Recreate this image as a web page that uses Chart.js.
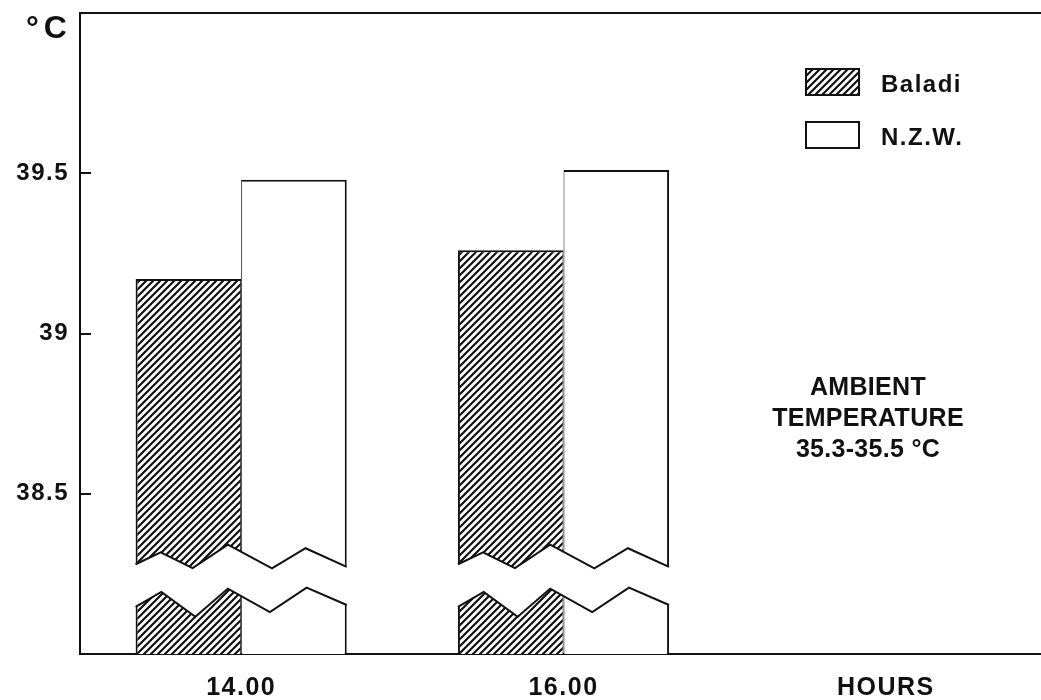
<!DOCTYPE html>
<html><head><meta charset="utf-8">
<script src="https://cdn.jsdelivr.net/npm/chart.js@4.4.1/dist/chart.umd.min.js"></script>
<style>
html,body{margin:0;padding:0;overflow:hidden;background:#fff}
#wrap{width:1047px;height:700px;position:relative}
</style>
</head><body><div id="wrap"><canvas id="c"></canvas></div>
<script>
// ---- data ----
const categories = ['14.00', '16.00', 'HOURS'];
const baladi = [39.17, 39.26, null];
const nzw = [39.48, 39.51, null];
const seriesNames = ['Baladi', 'N.Z.W.'];
const yTicks = [38.5, 39, 39.5];
const yMin = 38, yMax = 40;
const unitLabel = '°C';
const noteLines = ['AMBIENT', 'TEMPERATURE', '35.3-35.5 °C'];

// ---- styles ----
const INK = '#111';
const FONT = "'Liberation Sans', Arial, sans-serif";

function makeHatch() {
  const s = 7;
  const c = document.createElement('canvas');
  c.width = s; c.height = s;
  const g = c.getContext('2d');
  g.fillStyle = '#fff'; g.fillRect(0, 0, s, s);
  g.strokeStyle = INK; g.lineWidth = 2.2; g.lineCap = 'square';
  g.beginPath();
  g.moveTo(0, s); g.lineTo(s, 0);
  g.moveTo(-1, 1); g.lineTo(1, -1);
  g.moveTo(s - 1, s + 1); g.lineTo(s + 1, s - 1);
  g.stroke();
  return g.createPattern(c, 'repeat');
}
const ctx0 = document.getElementById('c').getContext('2d');
const hatch = makeHatch();

// axis-break zigzag shape (fraction across bar pair, value on y scale)
const breakUpper = [[0,38.280],[0.119,38.317],[0.27,38.268],[0.437,38.341],[0.646,38.267],[0.805,38.330],[1,38.272]];
const breakLower = [[0,38.147],[0.122,38.194],[0.283,38.116],[0.437,38.204],[0.636,38.131],[0.81,38.207],[1,38.153]];

function spaced(ctx, px) { if ('letterSpacing' in ctx) ctx.letterSpacing = px + 'px'; }

const decorPlugin = {
  id: 'decor',
  beforeDraw(chart) { spaced(chart.ctx, 1.5); },
  afterDatasetsDraw(chart) {
    const ctx = chart.ctx, ca = chart.chartArea;
    const y = chart.scales.y;
    const m0 = chart.getDatasetMeta(0).data, m1 = chart.getDatasetMeta(1).data;
    ctx.save();
    for (let i = 0; i < m0.length; i++) {
      const b0 = m0[i], b1 = m1[i];
      if (baladi[i] == null || nzw[i] == null) continue;
      const L = b0.x - b0.width / 2, R = b1.x + b1.width / 2, W = R - L;
      const up = breakUpper.map(p => [L + p[0] * W, y.getPixelForValue(p[1])]);
      const lo = breakLower.map(p => [L + p[0] * W, y.getPixelForValue(p[1])]);
      ctx.beginPath();
      ctx.moveTo(up[0][0] - 1, up[0][1]);
      up.forEach((p, k) => ctx.lineTo(p[0] + (k === up.length - 1 ? 1 : 0), p[1]));
      for (let k = lo.length - 1; k >= 0; k--) ctx.lineTo(lo[k][0] + (k === lo.length - 1 ? 1 : (k === 0 ? -1 : 0)), lo[k][1]);
      ctx.closePath();
      ctx.fillStyle = '#fff';
      ctx.fill();
      ctx.strokeStyle = INK; ctx.lineWidth = 2; ctx.lineJoin = 'miter';
      [up, lo].forEach(line => {
        ctx.beginPath();
        line.forEach((p, k) => k ? ctx.lineTo(p[0], p[1]) : ctx.moveTo(p[0], p[1]));
        ctx.stroke();
      });
    }
    ctx.strokeStyle = INK; ctx.lineWidth = 2;
    yTicks.forEach(v => {
      const py = Math.round(y.getPixelForValue(v));
      ctx.beginPath(); ctx.moveTo(ca.left, py); ctx.lineTo(ca.left + 11, py); ctx.stroke();
    });
    ctx.beginPath(); ctx.moveTo(ca.left - 1, ca.top); ctx.lineTo(ca.right, ca.top); ctx.stroke();
    ctx.restore();
  },
  afterDraw(chart) {
    const ctx = chart.ctx;
    ctx.save();
    ctx.fillStyle = INK;
    spaced(ctx, 5);
    ctx.font = "bold 32px " + FONT;
    ctx.textAlign = 'left'; ctx.textBaseline = 'alphabetic';
    ctx.fillText(unitLabel, 26, 38);
    const ds = chart.data.datasets;
    const boxY = [69, 122];
    ds.forEach((d, i) => {
      const by = boxY[i];
      ctx.fillStyle = d.backgroundColor;
      ctx.fillRect(806, by, 53, 26);
      ctx.strokeStyle = INK; ctx.lineWidth = 2;
      ctx.strokeRect(806, by, 53, 26);
      ctx.fillStyle = INK;
      spaced(ctx, 1.5);
      ctx.font = "bold 24px " + FONT;
      ctx.textAlign = 'left'; ctx.textBaseline = 'middle';
      ctx.fillText(d.label, 881, by + 16);
    });
    spaced(ctx, 0.3);
    ctx.font = "bold 25px " + FONT;
    ctx.textAlign = 'center'; ctx.textBaseline = 'middle';
    noteLines.forEach((t, k) => ctx.fillText(t, 868, 388 + k * 31));
    ctx.restore();
    spaced(ctx, 0);
  }
};

new Chart(ctx0, {
  type: 'bar',
  data: {
    labels: categories,
    datasets: [
      { label: seriesNames[0], data: baladi, backgroundColor: hatch, borderColor: INK,
        borderWidth: {top: 2, left: 2, right: 1, bottom: 0}, borderSkipped: false },
      { label: seriesNames[1], data: nzw, backgroundColor: '#fff', borderColor: INK,
        borderWidth: {top: 2, left: 1, right: 2, bottom: 0}, borderSkipped: false }
    ]
  },
  options: {
    responsive: true, maintainAspectRatio: false, animation: false,
    layout: { padding: { top: 13, right: 0, left: 0, bottom: 0 } },
    datasets: { bar: { categoryPercentage: 0.655, barPercentage: 1 } },
    plugins: { legend: { display: false }, tooltip: { enabled: false } },
    scales: {
      x: {
        grid: { display: false, drawTicks: false },
        border: { display: true, color: INK, width: 2 },
        ticks: { color: INK, font: { family: FONT, size: 25, weight: 'bold' }, padding: 19, maxRotation: 0 },
        afterFit(s) { s.height = 46; s.paddingLeft = 0; s.paddingRight = 0; }
      },
      y: {
        min: yMin, max: yMax,
        grid: { display: false, drawTicks: false },
        border: { display: true, color: INK, width: 2 },
        afterBuildTicks(s) { s.ticks = yTicks.map(v => ({ value: v })); },
        ticks: { color: INK, font: { family: FONT, size: 24, weight: 'bold' }, padding: 11,
                 callback: v => String(v) },
        afterFit(s) { s.width = 80; s.paddingTop = 0; s.paddingBottom = 0; }
      }
    }
  },
  plugins: [decorPlugin]
});
</script>
</body></html>
